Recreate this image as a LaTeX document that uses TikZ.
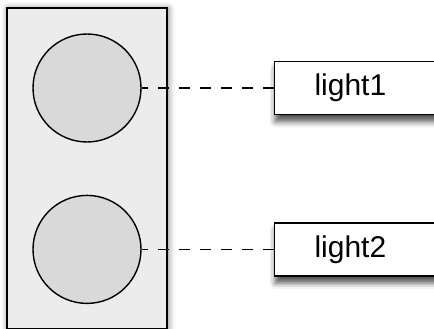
\documentclass[tikz,border=0pt]{standalone}
\usepackage{fontspec}
\setmainfont{Liberation Sans}
\usetikzlibrary{positioning,fit,backgrounds,shadows.blur}
\tikzset{
  lamp/.style    = {draw, circle, fill=gray!30, minimum size=108pt, inner sep=0pt, line width=1.4pt},
  tag/.style     = {draw, rectangle, fill=white, line width=1.6pt, minimum height=53pt,
                    text width=150pt, align=left, inner xsep=40pt,
                    font=\fontsize{30}{36}\selectfont,
                    blur shadow={shadow xshift=1pt, shadow yshift=-7pt, shadow blur radius=6pt,
                                 shadow opacity=70}},
  housing/.style = {draw, rectangle, fill=gray!15, line width=2pt, inner sep=25pt,
                    blur shadow={shadow xshift=1pt, shadow yshift=-1pt, shadow blur radius=7pt,
                                 shadow opacity=60}},
  link/.style    = {dash pattern=on 11pt off 10pt, line width=1.2pt}
}

\begin{document}
\begin{tikzpicture}[x=1pt, y=1pt]
    \useasboundingbox (0,0) rectangle (434,-329);

    \node[lamp] (lamp1) at (87,-88) {};
    \node[lamp] (lamp2) [below=52pt of lamp1] {};

    \node[tag] (tag1) [right=132pt of lamp1] {light1}
    edge [link] (lamp1);
    \node[tag] (tag2) [right=132pt of lamp2] {light2}
    edge [link] (lamp2);

    \begin{scope}[on background layer]
      \node [housing, fit=(lamp1) (lamp2)] (housing) {};
    \end{scope}
\end{tikzpicture}
\end{document}
